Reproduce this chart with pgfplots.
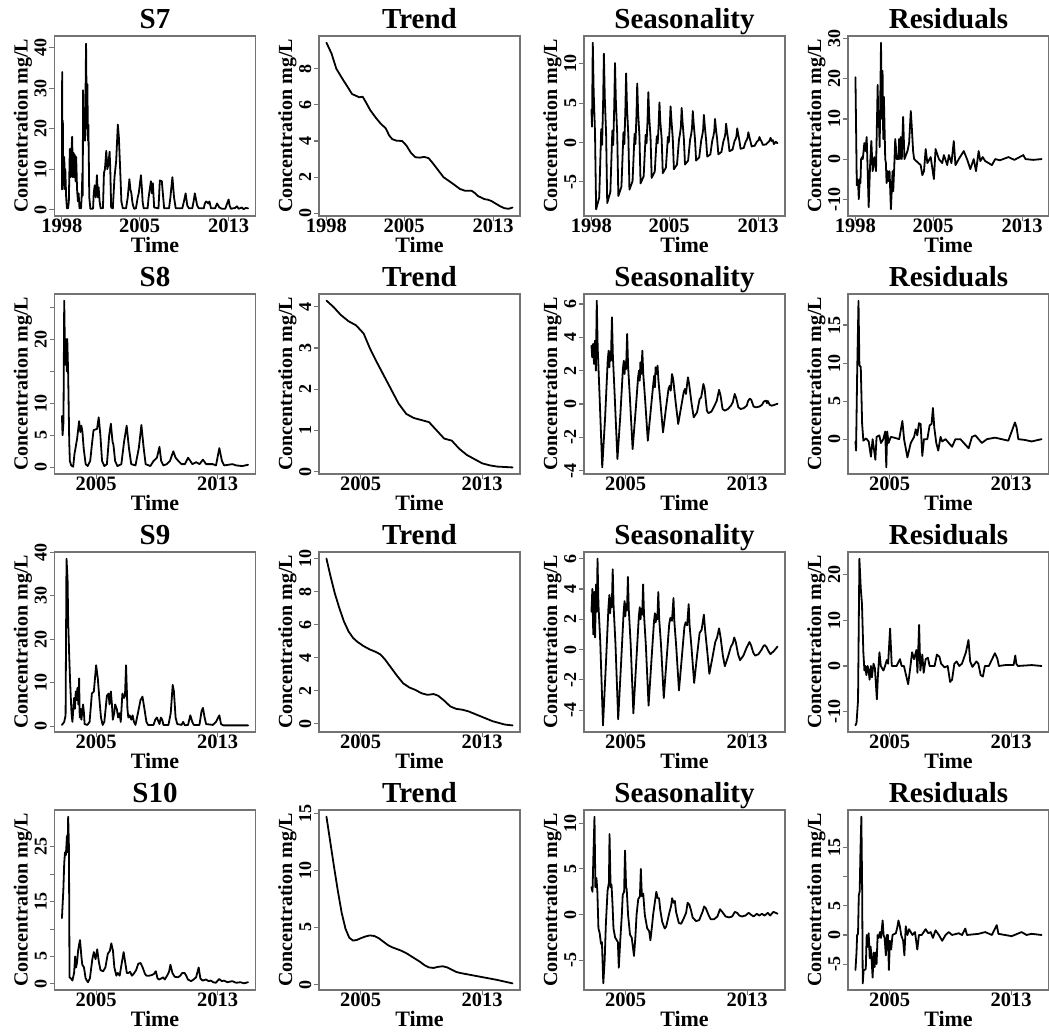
\documentclass[border=0pt]{standalone}
\usepackage{fontspec}
\setmainfont{Liberation Serif}
\usepackage{pgfplots}
\pgfplotsset{compat=1.18}
\definecolor{framegray}{gray}{0.45}
\newcommand{\TitleFont}{\fontsize{29}{29}\selectfont\bfseries}
\newcommand{\XTickFont}{\fontsize{20.5}{20.5}\selectfont\bfseries}
\newcommand{\YTickFont}{\fontsize{18}{18}\selectfont\bfseries}
\newcommand{\XLabFont}{\fontsize{22}{22}\selectfont\bfseries}
\newcommand{\YLabFont}{\fontsize{20}{20}\selectfont\bfseries}
\pgfplotsset{
  panel/.style={
    scale only axis, width=201pt, height=180pt, anchor=south west,
    axis line style={draw=framegray, line width=1.1pt},
    tick style={draw=framegray, line width=1.1pt},
    tick align=outside, major tick length=5pt,
    tick pos=left,
    /pgf/number format/assume math mode=true,
    /pgf/number format/1000 sep={},
    xticklabel style={font=\XTickFont, anchor=base, yshift=-11pt},
    yticklabel style={font=\YTickFont, anchor=base, xshift=-3pt, rotate=90},
    xlabel={Time}, ylabel={Concentration mg/L},
    xlabel style={font=\XLabFont, at={(axis description cs:0.5,0)}, anchor=base, yshift=-36pt},
    ylabel style={font=\YLabFont, at={(axis description cs:-0.134,0.5)}, anchor=base},
    title style={font=\TitleFont, at={(axis description cs:0.5,1)}, anchor=base, yshift=1.5pt},
  },
  tsline/.style={black, line width=1.8pt, line join=round, line cap=round, mark=none},
  rowA/.style={xmin=1997.33, xmax=2015.42, xtick={1998,2005,2013}},
  rowB/.style={xmin=2002.26, xmax=2015.49, xtick={2005,2013}},
}
\begin{document}
\begin{tikzpicture}
\useasboundingbox (0,0) rectangle (1049pt,-1034pt);
% ---------------- Row 1 ----------------
\begin{axis}[panel, rowA, at={(54.5pt,-216pt)}, title={S7},
  ymin=-1.6, ymax=42.9, ytick={0,10,20,30,40}]
\addplot[tsline] coordinates {(1998.00,5)(1998.02,34)(1998.05,5)(1998.08,22)(1998.12,6)(1998.21,13)(1998.25,5)(1998.30,10)(1998.38,3)(1998.45,0.3)(1998.55,0.3)(1998.62,2)(1998.71,15)(1998.78,8)(1998.85,14)(1998.92,18)(1998.98,8)(1999.05,14)(1999.10,8)(1999.16,13.5)(1999.22,7)(1999.28,13)(1999.36,5)(1999.44,2)(1999.50,4)(1999.58,0.3)(1999.72,0.3)(1999.79,4)(1999.84,9)(1999.87,3.5)(1999.90,29.5)(1999.95,18)(2000.00,20)(2000.08,17)(2000.17,41)(2000.24,20)(2000.29,31)(2000.34,17)(2000.38,21)(2000.46,3)(2000.56,0.2)(2000.80,0.2)(2000.86,4)(2000.95,6)(2001.04,3)(2001.15,8.5)(2001.24,3)(2001.30,5.5)(2001.39,2)(2001.48,0.3)(2001.69,0.3)(2001.78,9)(2001.87,10)(2001.99,14.5)(2002.08,10)(2002.17,11)(2002.29,14.3)(2002.35,10)(2002.43,0.5)(2002.58,0.3)(2002.73,8)(2002.88,12)(2003.03,21)(2003.12,18)(2003.24,10)(2003.35,2)(2003.48,0.3)(2003.77,0.3)(2003.92,3)(2004.07,7.5)(2004.16,5)(2004.25,4)(2004.33,2)(2004.40,1)(2004.50,0.2)(2004.66,0.3)(2004.82,3)(2004.91,4)(2005.11,8.5)(2005.20,5)(2005.26,2)(2005.35,0.3)(2005.71,0.3)(2005.80,3)(2006.01,7)(2006.10,4)(2006.18,6.5)(2006.30,0.5)(2006.69,0.3)(2006.81,7.2)(2006.99,7)(2007.05,5)(2007.20,0.3)(2007.64,0.3)(2007.76,3)(2007.94,8)(2008.09,3)(2008.24,0.3)(2008.83,0.3)(2008.98,2)(2009.13,4)(2009.28,1)(2009.43,0.3)(2009.73,0.3)(2009.85,2)(2009.96,4)(2010.17,1)(2010.32,0.3)(2010.77,0.3)(2010.86,1.5)(2010.98,2)(2011.18,1.5)(2011.27,2)(2011.42,0.3)(2011.78,0.3)(2011.96,1.5)(2012.17,0.5)(2012.40,0.2)(2012.70,0.2)(2013.00,2.5)(2013.09,1)(2013.21,0.2)(2013.60,0.4)(2013.75,0.8)(2013.90,0.2)(2014.20,0.5)(2014.35,0.1)(2014.55,0.4)(2014.75,0.3)};
\end{axis}
\begin{axis}[panel, rowA, at={(319pt,-216pt)}, title={Trend},
  ymin=-0.15, ymax=9.81, ytick={0,2,4,6,8}]
\addplot[tsline] coordinates {(1998.00,9.44)(1998.45,8.85)(1998.89,8.0)(1999.48,7.4)(1999.90,7.0)(2000.30,6.6)(2000.67,6.5)(2000.95,6.42)(2001.26,6.45)(2001.50,6.2)(2001.95,5.7)(2002.45,5.28)(2002.90,4.95)(2003.34,4.7)(2003.65,4.3)(2003.93,4.1)(2004.30,4.02)(2004.82,4.0)(2005.20,3.75)(2005.60,3.35)(2006.01,3.1)(2006.40,3.08)(2006.80,3.12)(2007.20,3.05)(2007.60,2.75)(2008.10,2.35)(2008.53,2.0)(2009.00,1.8)(2009.57,1.55)(2010.00,1.35)(2010.46,1.25)(2011.06,1.25)(2011.40,1.1)(2011.65,0.95)(2012.00,0.85)(2012.24,0.78)(2012.54,0.75)(2012.84,0.68)(2013.20,0.55)(2013.60,0.4)(2014.02,0.28)(2014.40,0.25)(2014.75,0.32)};
\end{axis}
\begin{axis}[panel, rowA, at={(584pt,-216pt)}, title={Seasonality},
  ymin=-9.35, ymax=13.55, ytick={-5,0,5,10}]
\addplot[tsline] coordinates {(1998.00,4.2)(1998.05,2.0)(1998.12,12.7)(1998.20,6.4)(1998.32,1.3)(1998.42,-8.5)(1998.70,-7.0)(1998.88,1.7)(1998.96,-0.3)(1999.05,5.1)(1999.12,11.3)(1999.20,5.7)(1999.32,1.1)(1999.42,-7.7)(1999.70,-6.3)(1999.88,1.5)(1999.96,-0.3)(2000.05,4.5)(2000.12,10.1)(2000.20,5.1)(2000.32,1.0)(2000.42,-6.8)(2000.70,-5.6)(2000.88,1.3)(2000.96,-0.2)(2001.05,4.0)(2001.12,8.8)(2001.20,4.4)(2001.32,0.9)(2001.42,-6.0)(2001.70,-4.9)(2001.88,1.1)(2001.96,-0.2)(2002.05,3.4)(2002.12,7.5)(2002.20,3.8)(2002.32,0.8)(2002.42,-5.2)(2002.70,-4.3)(2002.88,1.0)(2002.96,-0.1)(2003.05,2.9)(2003.12,6.4)(2003.20,3.2)(2003.32,0.6)(2003.42,-4.5)(2003.70,-3.7)(2003.88,0.8)(2003.96,-0.1)(2004.05,2.3)(2004.12,5.1)(2004.20,2.6)(2004.32,0.5)(2004.42,-3.9)(2004.70,-3.2)(2004.88,0.7)(2004.96,0.0)(2005.05,2.1)(2005.12,4.6)(2005.20,2.8)(2005.32,0.5)(2005.42,-3.4)(2005.70,-2.8)(2005.88,0.4)(2005.96,1.0)(2006.05,2.0)(2006.12,4.4)(2006.20,2.6)(2006.32,0.4)(2006.42,-2.8)(2006.70,-2.3)(2006.88,0.4)(2006.96,0.9)(2007.05,1.8)(2007.12,4.0)(2007.20,2.4)(2007.32,0.4)(2007.42,-2.3)(2007.70,-1.9)(2007.88,0.3)(2007.96,0.8)(2008.05,1.6)(2008.12,3.5)(2008.20,2.1)(2008.32,0.3)(2008.42,-1.8)(2008.70,-1.5)(2008.88,0.3)(2008.96,0.7)(2009.05,1.4)(2009.12,3.0)(2009.20,1.8)(2009.32,0.3)(2009.42,-1.5)(2009.70,-1.2)(2009.88,0.2)(2009.96,0.5)(2010.05,1.1)(2010.12,2.4)(2010.20,1.4)(2010.32,0.2)(2010.42,-1.1)(2010.70,-0.9)(2010.88,0.2)(2010.96,0.4)(2011.05,0.8)(2011.12,1.8)(2011.20,1.1)(2011.32,0.2)(2011.42,-0.8)(2011.70,-0.7)(2011.88,0.1)(2011.96,0.3)(2012.05,0.6)(2012.12,1.3)(2012.20,0.8)(2012.32,0.1)(2012.42,-0.5)(2012.70,-0.4)(2012.88,0.1)(2012.96,0.2)(2013.05,0.3)(2013.12,0.7)(2013.20,0.4)(2013.32,0.1)(2013.42,-0.3)(2013.70,-0.25)(2013.88,0.0)(2013.96,0.1)(2014.05,0.3)(2014.12,0.6)(2014.20,0.2)(2014.32,0.3)(2014.42,-0.2)(2014.60,0.1)(2014.75,-0.1)};
\end{axis}
\begin{axis}[panel, rowA, at={(848pt,-216pt)}, title={Residuals},
  ymin=-14.2, ymax=30.7, ytick={-10,0,10,20,30}]
\addplot[tsline] coordinates {(1998.00,20.4)(1998.12,-6.5)(1998.18,-5)(1998.24,-6)(1998.30,-10)(1998.39,-5)(1998.45,-6)(1998.51,0)(1998.60,0.5)(1998.66,0)(1998.80,4)(1998.89,2)(1999.01,5.5)(1999.10,-3)(1999.19,-12)(1999.31,-2)(1999.43,4.5)(1999.55,-3)(1999.70,0.5)(1999.85,-3)(2000.00,18.5)(2000.06,8)(2000.09,12)(2000.18,3)(2000.30,29)(2000.38,10)(2000.44,22)(2000.50,5)(2000.56,15.5)(2000.68,0)(2000.74,-1)(2000.80,-6)(2000.89,-3)(2000.98,-5.5)(2001.07,-3)(2001.19,-12.5)(2001.28,-7)(2001.34,-3)(2001.40,-8)(2001.49,-2)(2001.58,5)(2001.64,3)(2001.70,0)(2001.87,0)(2001.93,5)(2001.99,0)(2002.08,5.5)(2002.17,0)(2002.29,10.5)(2002.41,0)(2002.68,2)(2002.83,4)(2002.98,12)(2003.07,8)(2003.19,2)(2003.28,0)(2003.87,-1.5)(2004.02,-4)(2004.17,-3)(2004.32,2.5)(2004.47,-1)(2004.77,0.5)(2005.06,-5)(2005.21,2.5)(2005.51,0)(2005.81,-1)(2005.96,1)(2006.26,-1.5)(2006.41,1)(2006.64,-1)(2006.85,4.5)(2007.00,-1.5)(2007.30,0)(2007.75,2)(2008.04,0)(2008.34,-2.5)(2008.64,0)(2008.85,-3)(2009.09,2)(2009.24,-0.5)(2009.45,0.5)(2009.68,-0.5)(2010.28,-1.5)(2010.58,0)(2011.00,-0.3)(2011.77,0.5)(2012.30,-0.2)(2013.11,1)(2013.30,0)(2014.00,-0.2)(2014.75,0)};
\end{axis}
% ---------------- Row 2 ----------------
\begin{axis}[panel, rowB, at={(54.5pt,-474pt)}, title={S8},
  ymin=-1.04, ymax=27.04, ytick={0,5,10,15,20,25}, yticklabels={0,5,10,,20,}]
\addplot[tsline] coordinates {(2002.75,8)(2002.79,5)(2002.85,7)(2002.90,26)(2002.96,16)(2003.03,20)(2003.07,15)(2003.10,20)(2003.16,14.5)(2003.23,4)(2003.27,1)(2003.36,0.3)(2003.49,0.1)(2003.57,2)(2003.75,4.5)(2003.88,7.2)(2003.96,5.5)(2004.03,6.5)(2004.10,5.5)(2004.18,3)(2004.31,0.5)(2004.44,0.2)(2004.61,1)(2004.72,3.5)(2004.83,5.8)(2005.06,6)(2005.17,7.8)(2005.28,5)(2005.39,1)(2005.54,0.2)(2005.71,0.5)(2005.86,5)(2005.97,6.8)(2006.08,4)(2006.14,3.5)(2006.25,1)(2006.40,0.2)(2006.66,0.5)(2006.84,4)(2007.01,6.5)(2007.16,3)(2007.31,0.5)(2007.59,0.3)(2007.81,3)(2007.98,6.6)(2008.13,3)(2008.26,0.5)(2008.57,0.2)(2008.78,1)(2009.00,1.5)(2009.17,3.2)(2009.28,1)(2009.43,0.3)(2009.65,0.5)(2009.86,1)(2010.08,2.5)(2010.23,1.5)(2010.41,1)(2010.62,0.5)(2010.84,0.5)(2011.05,1.5)(2011.20,1)(2011.33,0.5)(2011.59,0.8)(2011.81,0.5)(2012.03,1.2)(2012.24,0.5)(2012.68,0.5)(2012.89,0.3)(2013.11,3)(2013.28,1)(2013.43,0.3)(2013.97,0.5)(2014.23,0.3)(2014.62,0.2)(2015.00,0.4)};
\end{axis}
\begin{axis}[panel, rowB, at={(319pt,-474pt)}, title={Trend},
  ymin=-0.06, ymax=4.31, ytick={0,1,2,3,4}]
\addplot[tsline] coordinates {(2002.75,4.15)(2003.2,4.0)(2003.7,3.8)(2004.2,3.65)(2004.7,3.55)(2005.2,3.35)(2005.6,3.0)(2006.0,2.7)(2006.5,2.35)(2007.0,2.0)(2007.5,1.65)(2008.0,1.4)(2008.5,1.3)(2009.0,1.25)(2009.5,1.2)(2010.0,1.0)(2010.5,0.8)(2011.0,0.75)(2011.5,0.55)(2012.0,0.4)(2012.5,0.3)(2013.0,0.2)(2013.5,0.15)(2014.0,0.12)(2015.0,0.1)};
\end{axis}
\begin{axis}[panel, rowB, at={(584pt,-474pt)}, title={Seasonality},
  ymin=-4.2, ymax=6.6, ytick={-4,-2,0,2,4,6}]
\addplot[tsline] coordinates {(2002.75,3.5)(2002.80,2.8)(2002.86,3.6)(2002.92,2.4)(2002.98,3.8)(2003.04,2.0)(2003.10,6.2)(2003.16,3.4)(2003.28,0.6)(2003.46,-3.8)(2003.65,-0.8)(2003.82,2.6)(2003.88,3.2)(2003.93,2.2)(2003.97,3.1)(2004.03,2.6)(2004.10,5.2)(2004.16,2.9)(2004.28,0.5)(2004.46,-3.3)(2004.65,-0.7)(2004.82,2.1)(2004.88,2.6)(2004.93,1.8)(2004.97,2.5)(2005.03,2.1)(2005.10,4.2)(2005.16,2.3)(2005.28,0.4)(2005.46,-2.7)(2005.65,-0.5)(2005.82,1.6)(2005.88,2.0)(2005.93,1.4)(2005.97,2.5)(2006.03,1.8)(2006.10,3.2)(2006.16,1.8)(2006.28,0.3)(2006.46,-2.2)(2006.65,-0.4)(2006.82,1.2)(2006.88,1.7)(2006.93,1.0)(2006.97,2.2)(2007.03,1.8)(2007.10,2.3)(2007.16,1.4)(2007.28,0.2)(2007.46,-1.7)(2007.65,-0.3)(2007.82,0.9)(2007.90,1.1)(2007.97,0.8)(2008.05,1.8)(2008.13,1.5)(2008.28,0.2)(2008.46,-1.2)(2008.65,-0.2)(2008.82,0.7)(2008.90,0.9)(2008.97,0.6)(2009.10,1.6)(2009.18,1.2)(2009.33,0.1)(2009.48,-0.8)(2009.70,-0.5)(2009.87,0.3)(2009.97,0.4)(2010.12,1.2)(2010.20,0.9)(2010.35,-0.4)(2010.45,-0.55)(2010.65,-0.45)(2010.85,-0.1)(2011.00,0.2)(2011.15,0.85)(2011.25,0.5)(2011.38,-0.3)(2011.53,-0.4)(2011.73,-0.3)(2011.93,-0.1)(2012.05,0.1)(2012.18,0.6)(2012.28,0.35)(2012.42,-0.2)(2012.57,-0.3)(2012.77,-0.25)(2012.97,-0.1)(2013.07,0.2)(2013.17,0.32)(2013.27,0.25)(2013.42,-0.15)(2013.57,-0.2)(2013.82,-0.15)(2013.97,-0.05)(2014.10,0.15)(2014.25,0.2)(2014.30,0.05)(2014.36,0.18)(2014.48,-0.05)(2014.62,-0.1)(2014.80,-0.05)(2015.00,0.02)};
\end{axis}
\begin{axis}[panel, rowB, at={(848pt,-474pt)}, title={Residuals},
  ymin=-4.58, ymax=19.08, ytick={0,5,10,15}]
\addplot[tsline] coordinates {(2002.75,-0.3)(2002.79,-1.5)(2002.86,8.3)(2002.95,18.2)(2003.01,9.7)(2003.10,9.5)(2003.19,2)(2003.27,-0.2)(2003.45,0.1)(2003.62,-0.3)(2003.77,-2.3)(2003.88,0)(2004.06,-2.7)(2004.14,0.3)(2004.32,0.5)(2004.43,-0.5)(2004.58,0)(2004.71,1)(2004.78,-3.7)(2004.84,1)(2004.93,-0.5)(2005.08,0.3)(2005.30,0.2)(2005.63,0)(2005.84,2.4)(2005.95,0)(2006.17,-2.4)(2006.39,-0.5)(2006.61,0.3)(2006.72,1.3)(2006.82,0.5)(2006.93,2.1)(2007.04,2)(2007.15,-2.2)(2007.26,0)(2007.48,0)(2007.63,1.8)(2007.76,2)(2007.85,4.1)(2007.94,1.5)(2008.07,-0.5)(2008.20,-1.5)(2008.35,0.3)(2008.46,-0.3)(2008.68,0)(2008.89,-0.5)(2009.11,-1)(2009.33,0)(2009.66,0)(2010.20,-1.2)(2010.42,0.3)(2010.64,0.5)(2011.07,-0.5)(2011.40,0)(2011.94,0.2)(2012.81,-0.2)(2013.25,2.2)(2013.36,1.5)(2013.47,0)(2013.90,-0.1)(2014.34,-0.3)(2015.00,0)};
\end{axis}
% ---------------- Row 3 ----------------
\begin{axis}[panel, rowB, at={(54.5pt,-732pt)}, title={S9},
  ymin=-1.33, ymax=40.03, ytick={0,10,20,30,40}]
\addplot[tsline] coordinates {(2002.75,0.3)(2002.90,1)(2002.99,2.5)(2003.05,38.5)(2003.12,34)(2003.16,24)(2003.23,16)(2003.29,10)(2003.38,3)(2003.44,1)(2003.51,4.5)(2003.55,6.5)(2003.60,4)(2003.66,8)(2003.70,6)(2003.77,8.8)(2003.83,5)(2003.88,11)(2003.92,2)(2003.98,4)(2004.03,1.5)(2004.14,5)(2004.20,3)(2004.24,0.5)(2004.42,0.3)(2004.57,1)(2004.72,7.5)(2004.85,8)(2005.00,14)(2005.11,11)(2005.22,6)(2005.32,2)(2005.43,0.3)(2005.54,1)(2005.71,7)(2005.82,7.5)(2005.88,5)(2005.97,8)(2006.04,5)(2006.10,1.5)(2006.19,3)(2006.25,5)(2006.36,4)(2006.45,2)(2006.54,3)(2006.62,1)(2006.73,7.5)(2006.84,6.5)(2006.90,7)(2006.97,14)(2007.06,4)(2007.12,2)(2007.21,2.5)(2007.32,1.5)(2007.40,2.5)(2007.49,1)(2007.59,0.3)(2007.75,3)(2007.92,6)(2008.05,6.8)(2008.18,4)(2008.31,1)(2008.42,0.3)(2008.78,0.3)(2008.89,1.5)(2009.00,2)(2009.11,1)(2009.17,0.5)(2009.26,2)(2009.35,1.5)(2009.43,0.3)(2009.76,0.3)(2009.91,3)(2010.04,9.5)(2010.12,8)(2010.23,2)(2010.34,0.5)(2010.62,0.3)(2010.73,1)(2010.84,0.2)(2011.05,0.3)(2011.20,2.5)(2011.33,1)(2011.43,0.3)(2011.80,0.3)(2011.94,3.5)(2012.03,4.2)(2012.14,2)(2012.24,0.5)(2012.68,0.3)(2012.89,1)(2013.11,2.5)(2013.22,0.5)(2013.37,0.2)(2015.00,0.2)};
\end{axis}
\begin{axis}[panel, rowB, at={(319pt,-732pt)}, title={Trend},
  ymin=-0.5, ymax=10.4, ytick={0,2,4,6,8,10}]
\addplot[tsline] coordinates {(2002.75,10.0)(2003.0,9.0)(2003.3,7.9)(2003.6,7.0)(2003.9,6.2)(2004.2,5.6)(2004.5,5.2)(2004.8,4.95)(2005.2,4.7)(2005.6,4.5)(2006.0,4.35)(2006.3,4.2)(2006.6,3.9)(2007.0,3.4)(2007.4,2.9)(2007.8,2.45)(2008.2,2.2)(2008.6,2.05)(2009.0,1.85)(2009.4,1.75)(2009.8,1.8)(2010.1,1.7)(2010.5,1.4)(2010.9,1.05)(2011.3,0.9)(2011.7,0.85)(2012.1,0.75)(2012.5,0.6)(2012.9,0.45)(2013.3,0.3)(2013.7,0.15)(2014.1,0.05)(2014.5,-0.05)(2015.0,-0.1)};
\end{axis}
\begin{axis}[panel, rowB, at={(584pt,-732pt)}, title={Seasonality},
  ymin=-5.44, ymax=6.44, ytick={-4,-2,0,2,4,6}]
\addplot[tsline] coordinates {(2002.75,2.5)(2002.81,4.0)(2002.87,1.0)(2002.93,3.8)(2002.99,0.8)(2003.05,4.3)(2003.10,2.5)(2003.15,6.0)(2003.21,3.0)(2003.33,0.5)(2003.51,-5.0)(2003.70,-1.0)(2003.87,2.8)(2003.93,3.6)(2003.98,2.4)(2004.03,3.4)(2004.09,2.8)(2004.15,5.3)(2004.21,2.8)(2004.33,0.4)(2004.51,-4.6)(2004.70,-0.9)(2004.87,2.5)(2004.93,3.2)(2004.98,2.2)(2005.03,3.0)(2005.09,2.6)(2005.15,4.8)(2005.21,2.6)(2005.33,0.4)(2005.51,-4.2)(2005.70,-0.8)(2005.87,2.2)(2005.93,2.8)(2005.98,2.0)(2006.03,2.7)(2006.09,2.3)(2006.15,4.3)(2006.21,2.3)(2006.33,0.3)(2006.51,-3.7)(2006.70,-0.7)(2006.87,1.9)(2006.93,2.4)(2006.98,1.8)(2007.03,2.3)(2007.09,2.0)(2007.15,3.8)(2007.21,2.0)(2007.33,0.3)(2007.51,-3.2)(2007.70,-0.6)(2007.87,1.7)(2007.95,2.1)(2008.05,1.9)(2008.15,3.4)(2008.21,1.8)(2008.33,0.2)(2008.51,-2.7)(2008.70,-0.5)(2008.87,1.5)(2008.95,1.8)(2009.05,1.6)(2009.15,3.0)(2009.21,1.6)(2009.33,0.2)(2009.51,-2.2)(2009.70,-0.4)(2009.87,1.1)(2010.00,1.3)(2010.15,2.3)(2010.23,1.3)(2010.38,-0.2)(2010.51,-1.6)(2010.70,-0.6)(2010.90,0.5)(2011.02,0.8)(2011.15,1.4)(2011.25,0.8)(2011.40,-0.4)(2011.53,-1.1)(2011.73,-0.5)(2011.93,0.2)(2012.05,0.4)(2012.15,0.8)(2012.25,0.5)(2012.40,-0.3)(2012.53,-0.7)(2012.75,-0.4)(2012.95,0.1)(2013.05,0.3)(2013.15,0.5)(2013.25,0.3)(2013.40,-0.2)(2013.53,-0.4)(2013.75,-0.3)(2013.95,0.0)(2014.05,0.2)(2014.15,0.3)(2014.25,0.2)(2014.40,-0.1)(2014.53,-0.3)(2014.75,-0.1)(2015.00,0.2)};
\end{axis}
\begin{axis}[panel, rowB, at={(848pt,-732pt)}, title={Residuals},
  ymin=-14.46, ymax=24.96, ytick={-10,0,10,20}]
\addplot[tsline] coordinates {(2002.75,-13)(2002.82,-12.5)(2002.92,-7.5)(2003.01,23.5)(2003.10,17)(2003.18,13.5)(2003.27,3)(2003.34,-1)(2003.40,0)(2003.47,-2)(2003.55,0)(2003.62,-1)(2003.68,-3)(2003.77,0)(2003.83,-2.5)(2003.94,0.5)(2004.03,-0.5)(2004.16,-7.3)(2004.23,-2)(2004.33,3)(2004.42,0)(2004.59,-1)(2004.70,0)(2004.81,1.3)(2004.90,0.5)(2005.03,8.2)(2005.14,0)(2005.46,0)(2005.68,1.5)(2005.79,0)(2005.94,0)(2006.22,-4)(2006.37,0)(2006.48,3)(2006.61,1.5)(2006.76,3.5)(2006.83,-1.5)(2006.94,9)(2007.02,-1)(2007.15,2.5)(2007.24,-1.5)(2007.37,1.5)(2007.52,1.8)(2007.63,0)(2007.96,0)(2008.11,2.5)(2008.28,2)(2008.39,0.5)(2008.61,-0.3)(2008.82,0)(2008.98,-3.5)(2009.11,-3)(2009.26,0.5)(2009.41,1)(2009.58,0)(2009.76,0.5)(2010.02,3)(2010.19,5.7)(2010.30,1)(2010.45,-0.2)(2010.71,1)(2010.84,0.5)(2010.99,-2)(2011.14,-2.3)(2011.27,0)(2011.53,0)(2011.93,2.8)(2012.01,2.2)(2012.10,1.5)(2012.19,0)(2012.62,0.2)(2013.16,0.2)(2013.27,2.3)(2013.34,0.5)(2013.44,0)(2014.36,0.2)(2015.00,0)};
\end{axis}
% ---------------- Row 4 ----------------
\begin{axis}[panel, rowB, at={(54.5pt,-990pt)}, title={S10},
  ymin=-1.12, ymax=31.72, ytick={0,5,10,15,20,25}, yticklabels={0,5,,15,,25}]
\addplot[tsline] coordinates {(2002.75,12)(2002.84,17)(2002.90,22)(2002.95,24)(2003.01,23.5)(2003.08,27)(2003.12,24)(2003.16,30.5)(2003.21,25)(2003.25,1.2)(2003.34,1)(2003.44,0.6)(2003.55,2)(2003.62,5)(2003.68,3)(2003.75,4)(2003.81,6)(2003.90,7.5)(2003.94,8)(2004.03,5)(2004.09,3.5)(2004.20,3)(2004.31,1)(2004.46,0.3)(2004.59,1)(2004.75,4.5)(2004.85,5.8)(2004.96,4.5)(2005.07,6.3)(2005.18,4)(2005.29,2.5)(2005.46,2.3)(2005.61,3)(2005.77,5.5)(2005.90,6)(2006.00,7.4)(2006.11,6)(2006.20,3)(2006.33,1.5)(2006.42,2)(2006.55,1.5)(2006.70,4)(2006.81,5.8)(2006.91,4)(2007.02,2)(2007.13,2)(2007.24,2.2)(2007.35,1.5)(2007.46,1.8)(2007.63,2.5)(2007.78,3.7)(2007.93,3.8)(2008.06,3)(2008.22,1.8)(2008.32,1.5)(2008.50,1.5)(2008.65,1.6)(2008.80,1.8)(2008.93,2.3)(2009.04,1)(2009.15,0.8)(2009.30,1)(2009.41,1.2)(2009.52,0.8)(2009.67,1.5)(2009.80,2.2)(2009.89,3.5)(2010.02,2)(2010.17,1.3)(2010.39,1.2)(2010.54,1.5)(2010.67,2)(2010.82,2)(2010.93,1.5)(2011.04,0.8)(2011.25,0.5)(2011.41,0.8)(2011.58,1.2)(2011.75,3)(2011.86,1)(2012.01,0.6)(2012.23,0.8)(2012.40,0.5)(2012.55,0.6)(2012.71,0.3)(2012.88,0.2)(2013.10,0.9)(2013.27,0.5)(2013.42,0.6)(2013.64,0.3)(2013.96,0.5)(2014.22,0.2)(2014.51,0.3)(2014.72,0.1)(2015.00,0.3)};
\end{axis}
\begin{axis}[panel, rowB, at={(319pt,-990pt)}, title={Trend},
  ymin=-0.48, ymax=15.28, ytick={0,5,10,15}]
\addplot[tsline] coordinates {(2002.75,14.7)(2003.0,12.5)(2003.25,10.3)(2003.5,8.2)(2003.75,6.3)(2004.0,4.9)(2004.25,4.1)(2004.5,3.85)(2004.75,3.9)(2005.0,4.05)(2005.3,4.2)(2005.6,4.3)(2005.9,4.25)(2006.2,4.05)(2006.5,3.75)(2006.8,3.45)(2007.1,3.25)(2007.4,3.1)(2007.7,2.95)(2008.0,2.75)(2008.3,2.5)(2008.6,2.25)(2008.9,2.0)(2009.2,1.7)(2009.5,1.5)(2009.8,1.45)(2010.1,1.55)(2010.4,1.6)(2010.7,1.5)(2011.0,1.3)(2011.3,1.1)(2011.6,1.0)(2012.0,0.9)(2012.4,0.8)(2012.8,0.7)(2013.2,0.6)(2013.6,0.5)(2014.0,0.4)(2014.5,0.25)(2015.0,0.1)};
\end{axis}
\begin{axis}[panel, rowB, at={(584pt,-990pt)}, title={Seasonality},
  ymin=-8.23, ymax=11.43, ytick={-5,0,5,10}]
\addplot[tsline] coordinates {(2002.75,3)(2002.82,2.5)(2002.88,6.5)(2002.95,10.7)(2003.01,3)(2003.08,4)(2003.14,2.5)(2003.21,-1.5)(2003.29,-2)(2003.38,-3.2)(2003.44,-3)(2003.53,-7.5)(2003.62,-5)(2003.70,-1)(2003.81,2.6)(2003.90,3.5)(2003.94,8.8)(2004.01,3)(2004.07,3.3)(2004.14,1)(2004.20,-1.5)(2004.31,-2.5)(2004.42,-2.8)(2004.49,-3)(2004.55,-5.8)(2004.64,-3)(2004.75,0)(2004.81,2.2)(2004.90,2.5)(2004.96,7)(2005.03,3)(2005.07,2.8)(2005.16,0)(2005.29,-2.2)(2005.40,-2.5)(2005.55,-4.5)(2005.64,-2.5)(2005.72,0)(2005.83,1.7)(2005.94,2)(2006.00,5)(2006.07,2)(2006.16,2.3)(2006.26,0)(2006.42,-1.5)(2006.55,-1.8)(2006.63,-2.8)(2006.72,-1.5)(2006.81,0)(2006.91,1.2)(2007.02,2.5)(2007.11,1.8)(2007.20,1.8)(2007.28,0.5)(2007.41,-0.8)(2007.57,-1.5)(2007.67,-1.3)(2007.78,-0.5)(2007.89,0.3)(2008.00,1.0)(2008.06,1.8)(2008.15,1.3)(2008.24,1.5)(2008.32,0.3)(2008.50,-0.9)(2008.65,-1.0)(2008.80,-0.5)(2008.98,0.2)(2009.08,1.3)(2009.19,1.1)(2009.30,0.5)(2009.41,-0.3)(2009.63,-0.7)(2009.84,-0.6)(2010.06,0.3)(2010.17,0.9)(2010.28,0.7)(2010.45,0)(2010.60,-0.5)(2010.82,-0.5)(2011.04,-0.2)(2011.21,0.6)(2011.36,0.3)(2011.58,-0.2)(2011.80,-0.3)(2012.01,-0.2)(2012.19,0.3)(2012.34,0.2)(2012.49,-0.1)(2012.66,-0.2)(2012.88,-0.1)(2013.10,0.2)(2013.25,0)(2013.42,-0.2)(2013.64,0.1)(2013.79,-0.1)(2013.97,0.1)(2014.14,-0.1)(2014.36,0.2)(2014.51,-0.1)(2014.72,0.3)(2014.88,0.2)(2015.00,0.1)};
\end{axis}
\begin{axis}[panel, rowB, at={(848pt,-990pt)}, title={Residuals},
  ymin=-9.44, ymax=21.44, ytick={-5,0,5,10,15}, yticklabels={-5,0,5,,15}]
\addplot[tsline] coordinates {(2002.75,-6)(2002.82,-3)(2002.86,0)(2002.92,0.2)(2002.97,6.8)(2003.03,7.5)(2003.08,14.5)(2003.14,20.3)(2003.19,8)(2003.23,-8.3)(2003.29,-6)(2003.36,-6)(2003.43,-5.8)(2003.49,0)(2003.56,-2)(2003.62,0.3)(2003.69,-4)(2003.75,-2)(2003.82,-4.5)(2003.88,-7.3)(2003.95,-3)(2004.01,-5.5)(2004.08,-3)(2004.14,-5)(2004.21,0)(2004.28,-0.5)(2004.36,0.5)(2004.43,-0.5)(2004.54,2.5)(2004.60,0)(2004.67,-0.5)(2004.75,-3.5)(2004.82,0)(2004.89,0)(2004.95,-6)(2005.02,-1)(2005.10,-2.5)(2005.19,0)(2005.41,0.3)(2005.52,1.5)(2005.58,2.5)(2005.67,1.5)(2005.76,0)(2005.89,-1)(2005.97,-3.5)(2006.06,1.5)(2006.17,0)(2006.28,1)(2006.39,0.5)(2006.50,0)(2006.67,0.5)(2006.82,-2.5)(2006.93,0)(2007.11,0)(2007.37,1)(2007.54,0.3)(2007.70,0.5)(2007.85,-0.5)(2008.02,0.8)(2008.24,0)(2008.46,-1)(2008.68,0)(2008.89,0.5)(2009.11,0)(2009.55,0.3)(2009.77,0)(2009.98,1.1)(2010.09,0)(2010.85,0.2)(2011.29,0.5)(2011.73,0)(2012.05,1.7)(2012.16,0.2)(2013.03,-0.2)(2013.69,0.5)(2014.01,0)(2014.34,0.2)(2015.00,0)};
\end{axis}
\end{tikzpicture}
\end{document}
